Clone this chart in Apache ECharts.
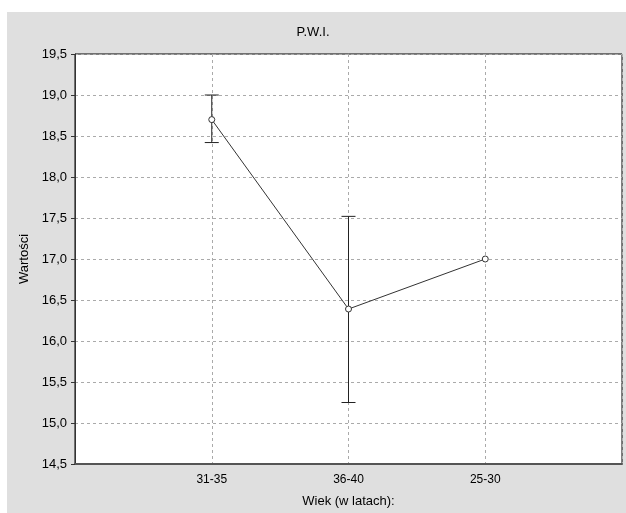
<!DOCTYPE html>
<html><head><meta charset="utf-8">
<script src="https://cdn.jsdelivr.net/npm/echarts@6/dist/echarts.min.js"></script>
<style>html,body{margin:0;padding:0;background:#fff}#c{width:626px;height:513px}</style>
</head><body><div id="c"></div>
<script>
var categories = ['', '31-35', '36-40', '25-30', ''];
var means = [null, 18.7, 16.39, 17.0, null];
var errLow = [null, 18.42, 15.25, 17.0, null];
var errHigh = [null, 19.0, 17.52, 17.0, null];
var yTicks = [14.5, 15.0, 15.5, 16.0, 16.5, 17.0, 17.5, 18.0, 18.5, 19.0, 19.5];

var errData = [];
for (var i = 0; i < categories.length; i++) {
  if (errLow[i] !== null && errHigh[i] !== errLow[i]) errData.push([i, errLow[i], errHigh[i]]);
}
var font = 'Liberation Sans, Arial, sans-serif';
var chart = echarts.init(document.getElementById('c'));
chart.setOption({
  animation: false,
  graphic: [{ type: 'rect', z: -10, silent: true, shape: { x: 7, y: 12, width: 619, height: 501 }, style: { fill: '#dfdfdf' } }],
  title: { text: 'P.W.I.', left: 'center', top: 21, textStyle: { fontFamily: font, fontSize: 13, fontWeight: 'normal', color: '#000' } },
  grid: { left: 75, right: 4, top: 54, bottom: 46, show: true, backgroundColor: '#fff', borderColor: '#000', borderWidth: 1 },
  xAxis: {
    type: 'category', data: categories, boundaryGap: false,
    name: 'Wiek (w latach):', nameLocation: 'middle', nameGap: 31,
    nameTextStyle: { fontFamily: font, fontSize: 13, color: '#000' },
    axisLine: { lineStyle: { color: '#555', width: 2 } },
    axisTick: { show: false },
    axisLabel: { fontFamily: font, fontSize: 12, color: '#000', margin: 10, interval: 0 },
    splitLine: { show: true, lineStyle: { color: '#aaa', type: [3, 3], width: 1 } }
  },
  yAxis: {
    type: 'value', min: yTicks[0], max: yTicks[yTicks.length - 1], interval: 0.5,
    name: 'Wartości', nameLocation: 'middle', nameGap: 44,
    nameTextStyle: { fontFamily: font, fontSize: 13, color: '#000' },
    axisLine: { show: true, lineStyle: { color: '#333', width: 1 } },
    axisTick: { show: true, length: 4, lineStyle: { color: '#333' } },
    axisLabel: { fontFamily: font, fontSize: 13, color: '#000', margin: 8,
      formatter: function (v) { return v.toFixed(1).replace('.', ','); } },
    splitLine: { show: true, lineStyle: { color: '#aaa', type: [3, 3], width: 1 } }
  },
  series: [
    {
      type: 'custom', data: errData, z: 3,
      renderItem: function (params, api) {
        var x = api.value(0);
        var lo = api.coord([x, api.value(1)]);
        var hi = api.coord([x, api.value(2)]);
        var w = 7;
        var st = { stroke: '#222', lineWidth: 1 };
        return { type: 'group', children: [
          { type: 'line', shape: { x1: lo[0], y1: lo[1], x2: hi[0], y2: hi[1] }, style: st },
          { type: 'line', shape: { x1: lo[0] - w, y1: lo[1], x2: lo[0] + w, y2: lo[1] }, style: st },
          { type: 'line', shape: { x1: hi[0] - w, y1: hi[1], x2: hi[0] + w, y2: hi[1] }, style: st }
        ]};
      }
    },
    {
      type: 'line', data: means, z: 4, connectNulls: false,
      symbol: 'circle', symbolSize: 6,
      lineStyle: { color: '#333', width: 1 },
      itemStyle: { color: '#fff', borderColor: '#333', borderWidth: 1 }
    }
  ]
});
</script></body></html>
